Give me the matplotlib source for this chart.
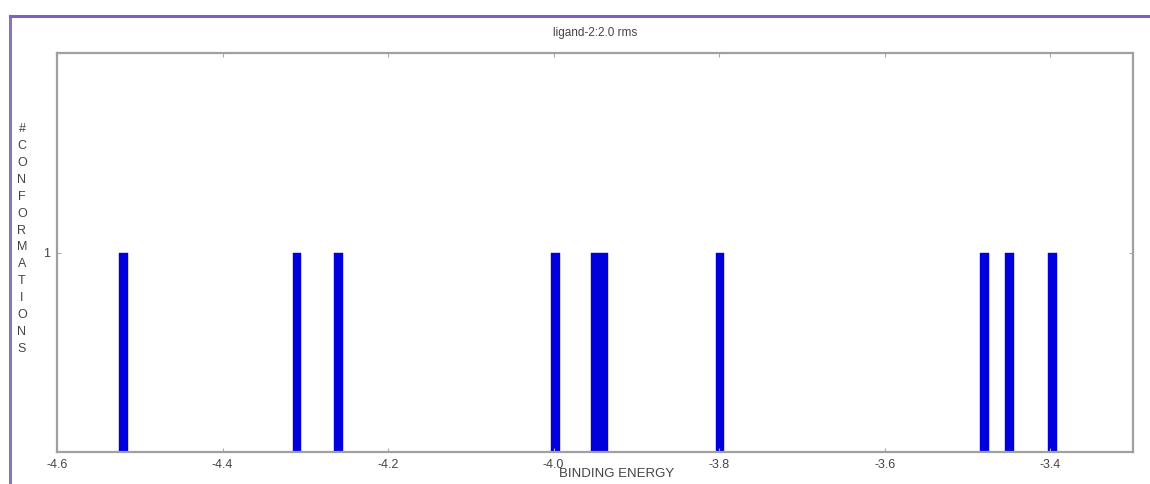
import numpy as np
import matplotlib
matplotlib.use('Agg')
from matplotlib import pyplot as plt
from matplotlib.lines import Line2D

#### data
energies = [-4.520, -4.310, -4.260, -3.998, -3.949, -3.939, -3.799, -3.479, -3.449, -3.397]
counts = [1, 1, 1, 1, 1, 1, 1, 1, 1, 1]
xticks = [-4.6, -4.4, -4.2, -4.0, -3.8, -3.6, -3.4]
xtick_labels = ['-4.6', '-4.4', '-4.2', '-4.0', '-3.8', '-3.6', '-3.4']
yticks = [1]
title = 'ligand-2:2.0 rms'
ylabel = '#CONFORMATIONS'

plt.rcParams['font.family'] = ['Liberation Sans', 'DejaVu Sans']

fig = plt.figure(figsize=(11.5, 4.84), dpi=100)
W, H = 1150, 484
ax = fig.add_axes([57 / W, 1 - 452 / H, (1133 - 57) / W, (452 - 53) / H])

#### bars
ax.bar(energies, counts, width=0.0105, color='#0000dd', edgecolor='#0000dd',
       linewidth=0.3, align='center')

ax.set_xlim(-4.6, -3.3)
ax.set_ylim(0, 2)
ax.set_xticks(xticks)
ax.set_xticklabels(xtick_labels)
ax.set_yticks(yticks)
ax.tick_params(direction='in', length=3, width=0.8, colors='#aaaaaa',
               labelcolor='#444444', labelsize=9, pad=5, top=True, right=True)
for s in ax.spines.values():
    s.set_color('#a0a0a0')
    s.set_linewidth(1.6)

ax.set_title(title, fontsize=8.5, color='#444444', pad=12)
fig.text(617 / W, 1 - 474 / H, 'BINDING ENERGY', ha='center', va='center',
         fontsize=9.5, color='#444444')
fig.text(22 / W, 1 - 239 / H, '\n'.join(ylabel), ha='center', va='center',
         fontsize=9, color='#444444', linespacing=1.55)

#### purple frame (left and top)
fig.add_artist(Line2D([10 / W, 10 / W], [0, 1 - 16 / H], color='#8878b8', lw=2.2))
fig.add_artist(Line2D([10 / W, 1], [1 - 16 / H, 1 - 16 / H], color='#8060c8', lw=2.2))

fig.savefig('out.png', dpi=100)
